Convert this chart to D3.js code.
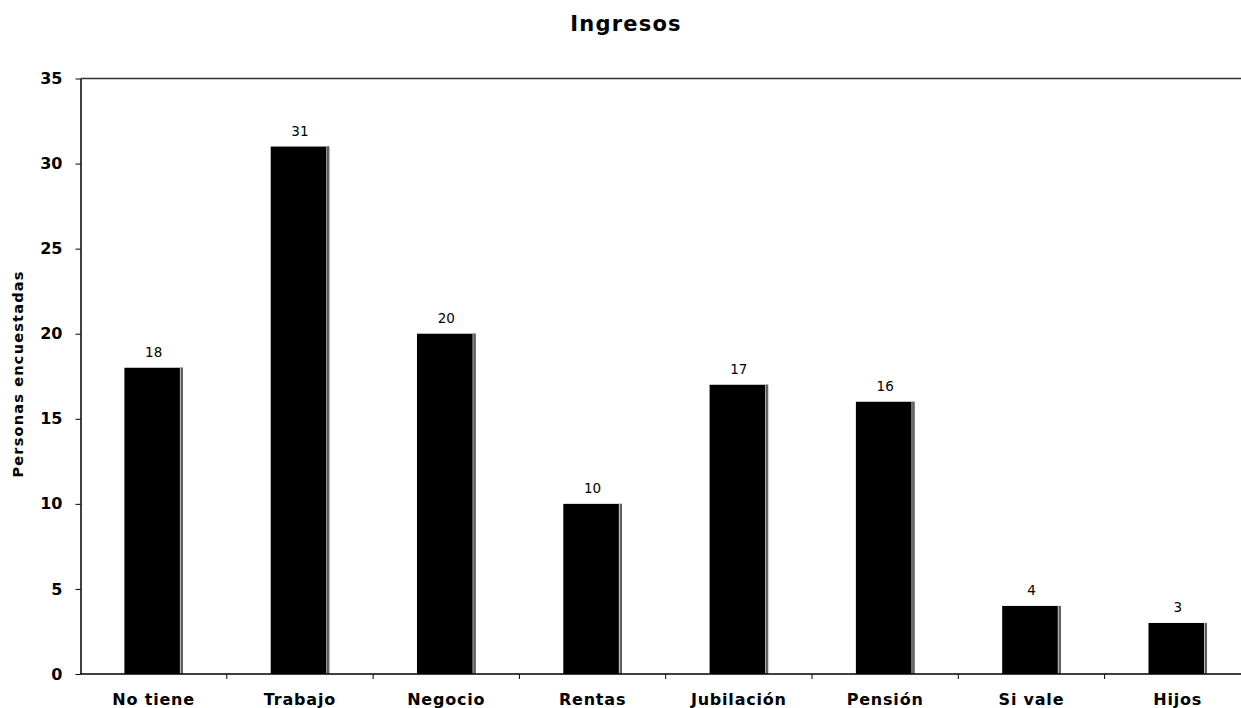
<!DOCTYPE html>
<html><head><meta charset="utf-8">
<script src="https://cdn.jsdelivr.net/npm/d3@7"></script>
<style>body{margin:0;background:#fff}svg{display:block}</style>
</head><body>
<svg id="c" width="1241" height="708"></svg>
<script>
const categories = ["No tiene","Trabajo","Negocio","Rentas","Jubilación","Pensión","Si vale","Hijos"];
const values = [18,31,20,10,17,16,4,3];
const yTicks = [0,5,10,15,20,25,30,35];
const title = "Ingresos";
const yLabel = "Personas encuestadas";

const svg = d3.select("#c");
const font = "'DejaVu Sans', Verdana, sans-serif";
const x0 = 80.5, band = 146.3;
const x = d3.scaleBand().domain(categories).range([x0, x0 + band*categories.length]).paddingInner(0.6).paddingOuter(0.3);
const y = d3.scaleLinear().domain([0,35]).range([674, 78.5]);

// top border
svg.append("line").attr("x1", x0).attr("x2", 1241).attr("y1", y(35)).attr("y2", y(35)).attr("stroke","#333").attr("stroke-width",1.5);

// bars
const g = svg.append("g");
categories.forEach((c,i)=>{
  const bx = x(c), bw = x.bandwidth(), top = y(values[i]);
  g.append("rect").attr("x", bx).attr("y", top).attr("width", bw).attr("height", y(0)-top).attr("fill","#000");
  g.append("rect").attr("x", bx+bw-3).attr("y", top).attr("width", 1.2).attr("height", y(0)-top).attr("fill","#bbb");
  g.append("rect").attr("x", bx+bw-1.8).attr("y", top).attr("width", 1.8).attr("height", y(0)-top).attr("fill","#666");
  g.append("text").attr("x", bx+bw/2).attr("y", top-11).attr("text-anchor","middle")
    .attr("font-family", font).attr("font-size", 13.5).attr("fill","#000").text(values[i]);
});

// y axis
const ya = svg.append("g").attr("transform",`translate(${x0},0)`)
  .call(d3.axisLeft(y).tickValues(yTicks).tickSize(5).tickPadding(13).tickSizeOuter(0));
ya.select(".domain").attr("stroke","#000").attr("stroke-width",1.5);
ya.selectAll(".tick line").attr("stroke","#000");
ya.selectAll("text").attr("font-family",font).attr("font-size",16).attr("font-weight","bold").attr("fill","#000");

// x axis
const xa = svg.append("g").attr("transform",`translate(0,${y(0)})`);
xa.append("line").attr("x1", x0).attr("x2", 1241).attr("stroke","#000").attr("stroke-width",1.5);
categories.forEach((c,i)=>{
  const tx = x0 + band*(i+1);
  xa.append("line").attr("x1",tx).attr("x2",tx).attr("y1",0).attr("y2",5).attr("stroke","#000");
  xa.append("text").attr("x", x(c)+x.bandwidth()/2).attr("y", 31).attr("text-anchor","middle")
    .attr("font-family",font).attr("font-size",16).attr("letter-spacing",0.8).attr("font-weight","bold").attr("fill","#000").text(c);
});

// title
svg.append("text").attr("x", 626).attr("y", 31).attr("text-anchor","middle")
  .attr("font-family",font).attr("font-size",21).attr("letter-spacing",1.2).attr("font-weight","bold").attr("fill","#000").text(title);

// y label
svg.append("text").attr("transform","translate(23,374) rotate(-90)").attr("text-anchor","middle")
  .attr("font-family",font).attr("font-size",14.5).attr("letter-spacing",1.2).attr("font-weight","bold").attr("fill","#000").text(yLabel);
</script>
</body></html>
